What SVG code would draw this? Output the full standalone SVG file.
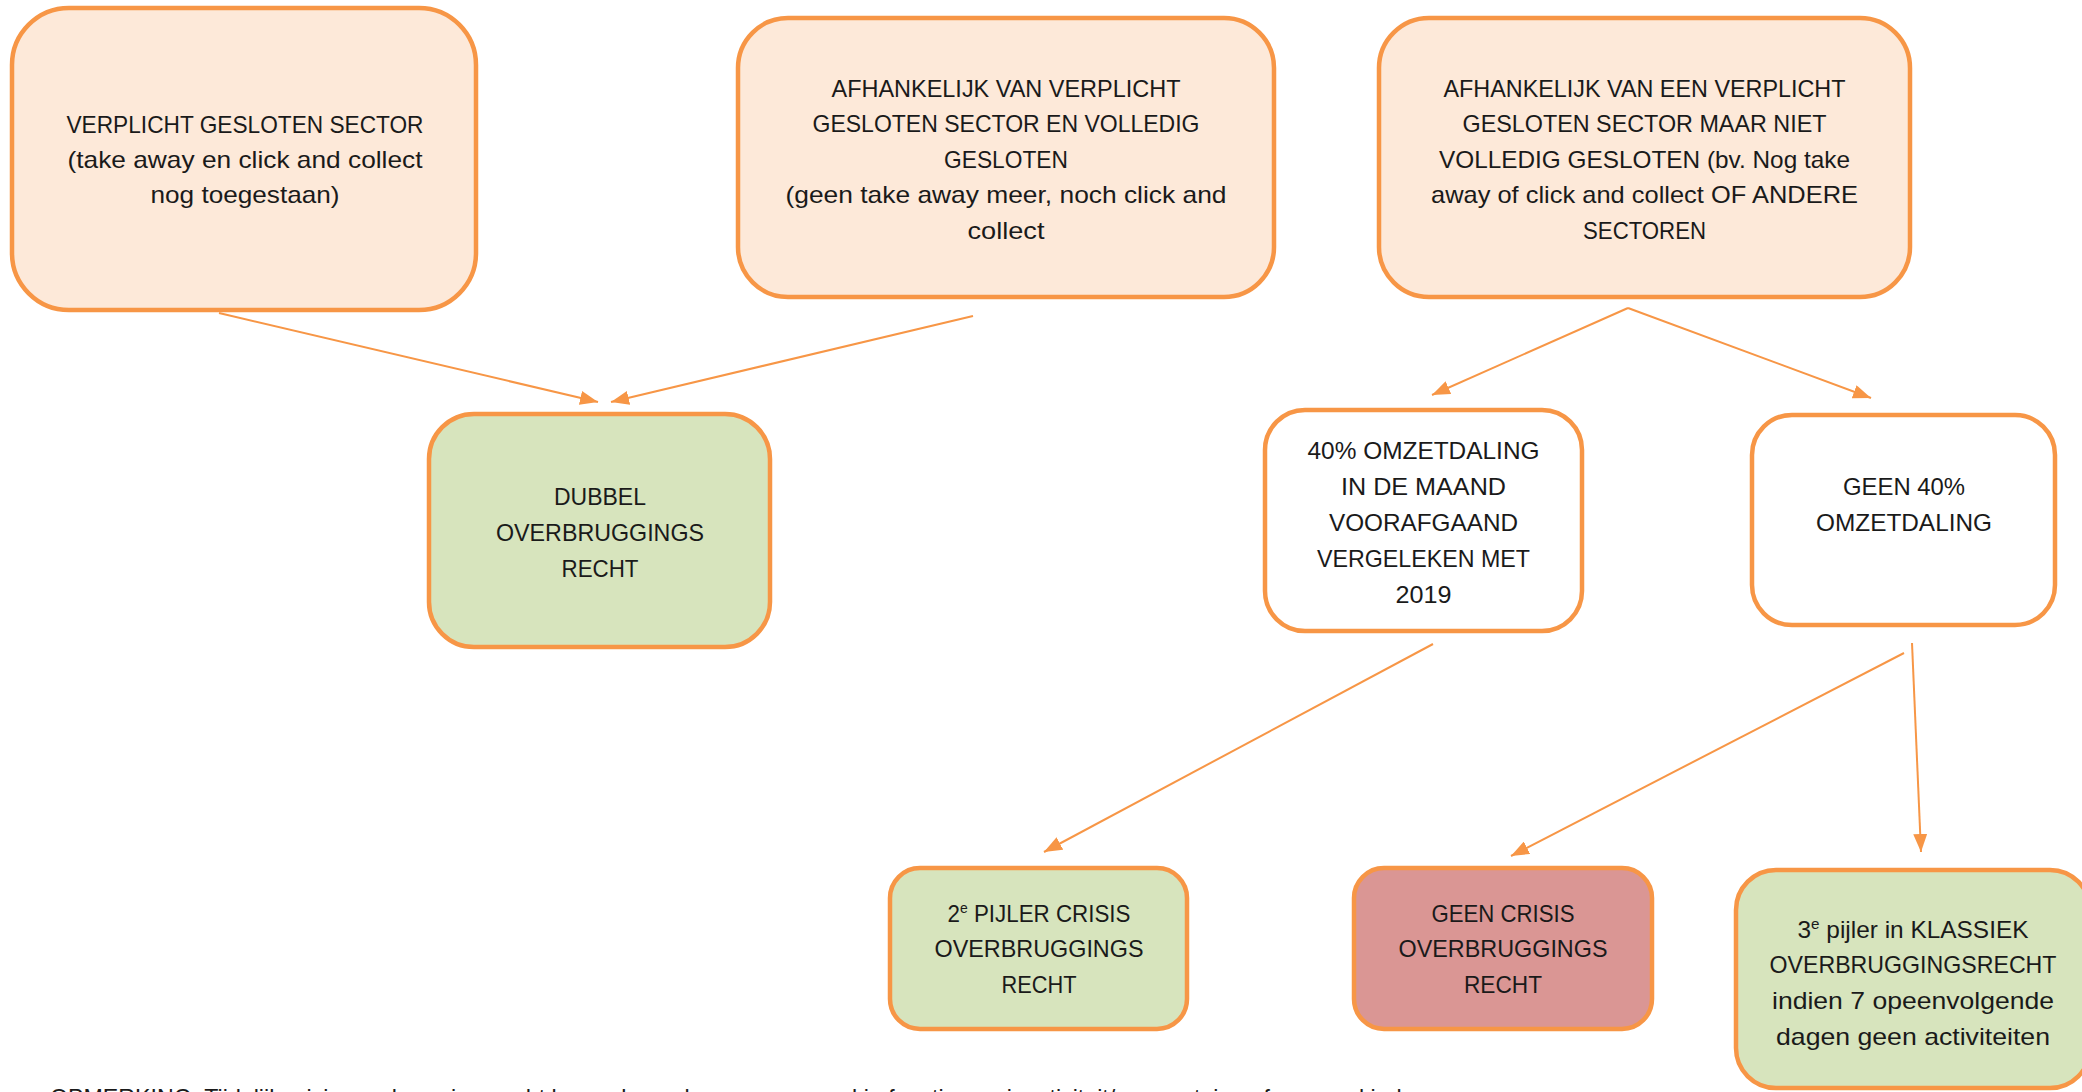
<svg xmlns="http://www.w3.org/2000/svg" width="2082" height="1092" viewBox="0 0 2082 1092">
<defs>
<style>
.node{stroke:#F79646;stroke-width:4.5}
.peach{fill:#FDE9D9}
.green{fill:#D7E4BD}
.red{fill:#DA9694}
.white{fill:#FFFFFF}
text{font-family:"Liberation Sans",Arial,sans-serif;font-size:24px;fill:#1a1a1a;text-anchor:middle}
.sup{font-size:15px}
.conn{stroke:#F79646;stroke-width:2;fill:none;marker-end:url(#arr)}
</style>
<marker id="arr" markerUnits="userSpaceOnUse" markerWidth="18" markerHeight="14" refX="18" refY="7" orient="auto">
<path d="M0,0 L18,7 L0,14 Z" fill="#F79646"/>
</marker>
</defs>
<rect width="2082" height="1092" fill="#FFFFFF"/>

<g id="connectors">
<line class="conn" x1="219" y1="313" x2="598" y2="402"/>
<line class="conn" x1="973" y1="316" x2="611" y2="402"/>
<line class="conn" x1="1628" y1="308" x2="1432" y2="395"/>
<line class="conn" x1="1628" y1="308" x2="1871" y2="398"/>
<line class="conn" x1="1433" y1="644" x2="1044" y2="852"/>
<line class="conn" x1="1904" y1="653" x2="1511" y2="856"/>
<line class="conn" x1="1912" y1="643" x2="1921" y2="852"/>
</g>

<g id="n1">
<rect class="node peach" x="12" y="8" width="464" height="302" rx="57" ry="57"/>
<text x="245" y="133" textLength="357" lengthAdjust="spacingAndGlyphs">VERPLICHT GESLOTEN SECTOR</text>
<text x="245" y="168" textLength="355" lengthAdjust="spacingAndGlyphs">(take away en click and collect</text>
<text x="245" y="203" textLength="189" lengthAdjust="spacingAndGlyphs">nog toegestaan)</text>
</g>

<g id="n2">
<rect class="node peach" x="738" y="18" width="536" height="279" rx="50" ry="50"/>
<text x="1006" y="97" textLength="349" lengthAdjust="spacingAndGlyphs">AFHANKELIJK VAN VERPLICHT</text>
<text x="1006" y="132" textLength="387" lengthAdjust="spacingAndGlyphs">GESLOTEN SECTOR EN VOLLEDIG</text>
<text x="1006" y="168" textLength="124" lengthAdjust="spacingAndGlyphs">GESLOTEN</text>
<text x="1006" y="203" textLength="441" lengthAdjust="spacingAndGlyphs">(geen take away meer, noch click and</text>
<text x="1006" y="239" textLength="77" lengthAdjust="spacingAndGlyphs">collect</text>
</g>

<g id="n3">
<rect class="node peach" x="1379" y="18" width="531" height="279" rx="50" ry="50"/>
<text x="1644.5" y="97" textLength="402" lengthAdjust="spacingAndGlyphs">AFHANKELIJK VAN EEN VERPLICHT</text>
<text x="1644.5" y="132" textLength="364" lengthAdjust="spacingAndGlyphs">GESLOTEN SECTOR MAAR NIET</text>
<text x="1644.5" y="168" textLength="411" lengthAdjust="spacingAndGlyphs">VOLLEDIG GESLOTEN (bv. Nog take</text>
<text x="1644.5" y="203" textLength="427" lengthAdjust="spacingAndGlyphs">away of click and collect OF ANDERE</text>
<text x="1644.5" y="239" textLength="123" lengthAdjust="spacingAndGlyphs">SECTOREN</text>
</g>

<g id="n4">
<rect class="node green" x="429" y="414" width="341" height="233" rx="45" ry="45"/>
<text x="600" y="505" textLength="92" lengthAdjust="spacingAndGlyphs">DUBBEL</text>
<text x="600" y="541" textLength="208" lengthAdjust="spacingAndGlyphs">OVERBRUGGINGS</text>
<text x="600" y="577" textLength="77" lengthAdjust="spacingAndGlyphs">RECHT</text>
</g>

<g id="n5">
<rect class="node white" x="1265" y="410" width="317" height="221" rx="40" ry="40"/>
<text x="1423.5" y="459" textLength="232" lengthAdjust="spacingAndGlyphs">40% OMZETDALING</text>
<text x="1423.5" y="495" textLength="165" lengthAdjust="spacingAndGlyphs">IN DE MAAND</text>
<text x="1423.5" y="531" textLength="189" lengthAdjust="spacingAndGlyphs">VOORAFGAAND</text>
<text x="1423.5" y="567" textLength="213" lengthAdjust="spacingAndGlyphs">VERGELEKEN MET</text>
<text x="1423.5" y="603" textLength="56" lengthAdjust="spacingAndGlyphs">2019</text>
</g>

<g id="n6">
<rect class="node white" x="1752" y="415" width="303" height="210" rx="40" ry="40"/>
<text x="1904" y="495" textLength="122" lengthAdjust="spacingAndGlyphs">GEEN 40%</text>
<text x="1904" y="531" textLength="176" lengthAdjust="spacingAndGlyphs">OMZETDALING</text>
</g>

<g id="n7">
<rect class="node green" x="890" y="868" width="297" height="161" rx="30" ry="30"/>
<text x="1039" y="922" textLength="183" lengthAdjust="spacingAndGlyphs">2<tspan class="sup" dy="-9">e</tspan><tspan dy="9"> PIJLER CRISIS</tspan></text>
<text x="1039" y="957" textLength="209" lengthAdjust="spacingAndGlyphs">OVERBRUGGINGS</text>
<text x="1039" y="993" textLength="75" lengthAdjust="spacingAndGlyphs">RECHT</text>
</g>

<g id="n8">
<rect class="node red" x="1354" y="868" width="298" height="161" rx="30" ry="30"/>
<text x="1503" y="922" textLength="143" lengthAdjust="spacingAndGlyphs">GEEN CRISIS</text>
<text x="1503" y="957" textLength="209" lengthAdjust="spacingAndGlyphs">OVERBRUGGINGS</text>
<text x="1503" y="993" textLength="78" lengthAdjust="spacingAndGlyphs">RECHT</text>
</g>

<g id="n9">
<rect class="node green" x="1736" y="870" width="354" height="218" rx="40" ry="40"/>
<text x="1913" y="938" textLength="231" lengthAdjust="spacingAndGlyphs">3<tspan class="sup" dy="-9">e</tspan><tspan dy="9"> pijler in KLASSIEK</tspan></text>
<text x="1913" y="973" textLength="287" lengthAdjust="spacingAndGlyphs">OVERBRUGGINGSRECHT</text>
<text x="1913" y="1009" textLength="282" lengthAdjust="spacingAndGlyphs">indien 7 opeenvolgende</text>
<text x="1913" y="1045" textLength="274" lengthAdjust="spacingAndGlyphs">dagen geen activiteiten</text>
</g>

<g id="note">
<text x="50" y="1106" style="text-anchor:start" textLength="1398" lengthAdjust="spacingAndGlyphs">OPMERKING: Tijdelijk crisis overbruggingsrecht kan ook worden aangevraagd in functie van inactiviteit/ quarantaine of opvang kinderen</text>
</g>
</svg>
